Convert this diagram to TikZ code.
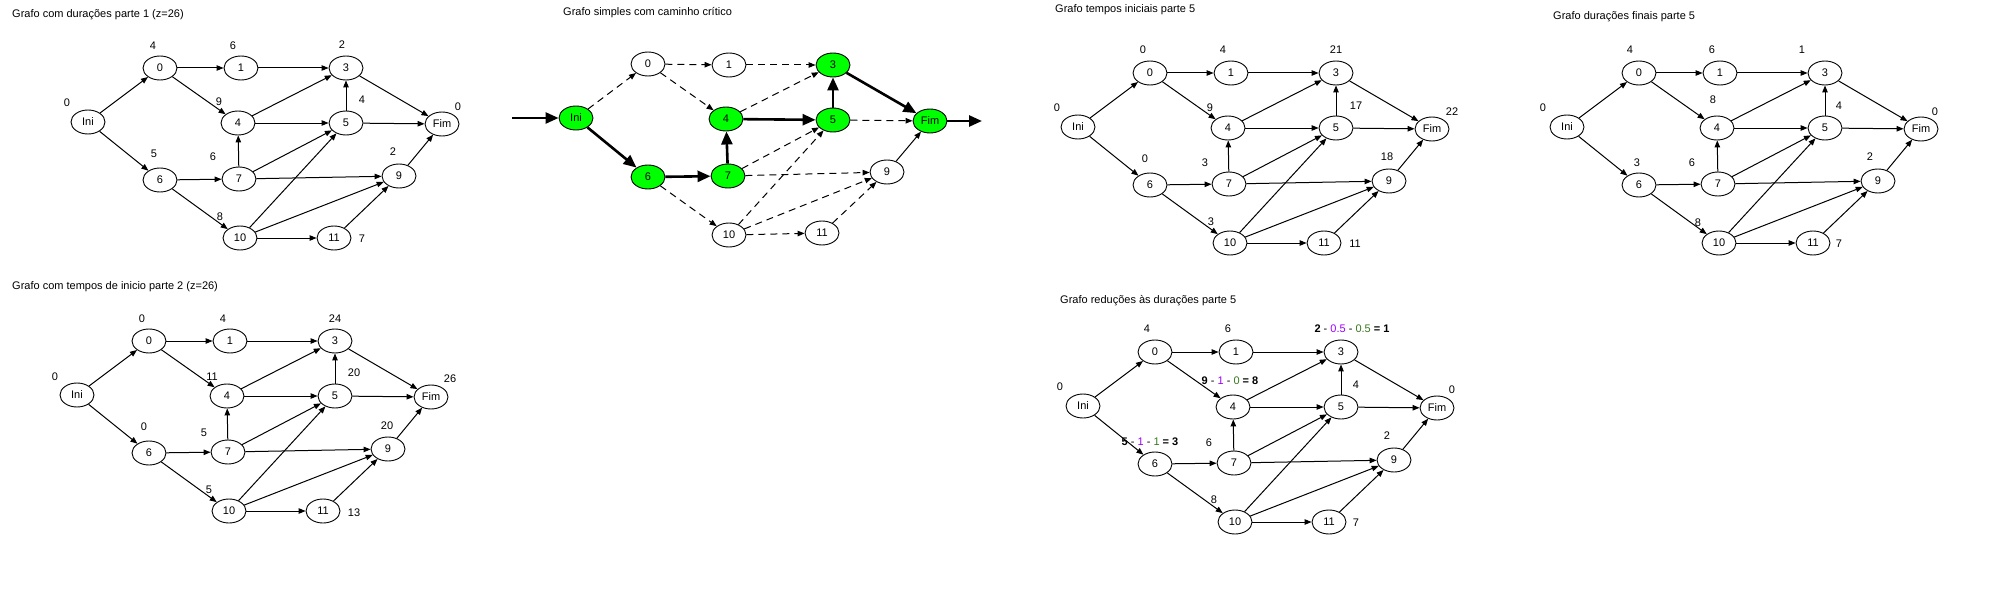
\documentclass[tikz,border=0pt]{standalone}
\usepackage{fontspec}
\setmainfont{Liberation Sans}
\usetikzlibrary{positioning, arrows.meta, shapes.geometric}

\definecolor{critverde}{HTML}{00FF00}
\definecolor{redroxo}{HTML}{9900FF}
\definecolor{redverde}{HTML}{38761D}

\begin{document}
\begin{tikzpicture}[
  x=1pt, y=-1pt,
  font=\fontsize{11}{13}\selectfont,
  vert/.style={
    draw, ellipse, line width=0.9pt, fill=white,
    minimum width=34pt, minimum height=24pt, inner sep=0pt
  },
  crit/.style={vert, fill=critverde},
  valor/.style={inner sep=0pt},
  titulo/.style={anchor=west, inner sep=0pt},
  seta/.style={-{Triangle[length=7pt,width=5.5pt]}, line width=1pt},
  tracejada/.style={seta, dash pattern=on 7pt off 5pt},
  grossa/.style={-{Triangle[length=13pt,width=11pt]}, line width=2.6pt},
]
\useasboundingbox (0,0) rectangle (2000,594);

% titles
\node[titulo] (ta) at (12,15)   {Grafo com durações parte 1 (z=26)};
\node[titulo] (tb) at (563,13)  {Grafo simples com caminho crítico};
\node[titulo] (tc) at (1055,10) {Grafo tempos iniciais parte 5};
\node[titulo] (td) at (1553,17) {Grafo durações finais parte 5};
\node[titulo] (te) at (12,287)  {Grafo com tempos de inicio parte 2 (z=26)};
\node[titulo] (tf) at (1060,301) {Grafo reduções às durações parte 5};

% five plain graphs, same layout, shifted to their Ini node
\foreach \g/\ox/\oy in {a/88/122, c/1078/127, d/1567/127, e/77/395, f/1083/406} {
  \begin{scope}[shift={(\ox,\oy)}]
    \foreach \v/\vx/\vy in {Ini/0/0, 0/72/-54, 1/153/-54, 3/258/-54, 4/150/1, 5/258/1,
        Fim/354/2, 6/72/58, 7/151/57, 9/311/54, 10/152/116, 11/246/116}
      \node[vert] (\g\v) at (\vx,\vy) {\v};
    \foreach \s/\t in {Ini/0, Ini/6, 0/1, 0/4, 1/3, 4/3, 4/5, 5/3, 3/Fim, 5/Fim,
        6/7, 6/10, 7/4, 7/5, 7/9, 9/Fim, 10/5, 10/9, 10/11, 11/9}
      \draw[seta] (\g\s) -- (\g\t);
  \end{scope}
}

% critical path graph
\begin{scope}[shift={(576,118)}]
  \foreach \v/\vx/\vy/\st in {Ini/0/0/crit, 0/72/-54/vert, 1/153/-53/vert, 3/257/-53/crit,
      4/150/1/crit, 5/257/2/crit, Fim/354/3/crit, 6/72/59/crit, 7/152/58/crit,
      9/311/54/vert, 10/153/117/vert, 11/246/115/vert}
    \node[\st] (b\v) at (\vx,\vy) {\v};
\end{scope}
\coordinate (bIn) at (512,118);
\coordinate (bOut) at (982,121);
\draw[grossa] (bIn) -- (bIni);
\draw[grossa] (bFim) -- (bOut);
\foreach \s/\t in {Ini/6, 6/7, 7/4, 4/5, 5/3, 3/Fim}
  \draw[grossa] (b\s) -- (b\t);
\foreach \s/\t in {Ini/0, 0/1, 0/4, 1/3, 4/3, 5/Fim, 6/10, 7/5, 7/9, 10/5, 10/9, 10/11, 11/9}
  \draw[tracejada] (b\s) -- (b\t);
\draw[seta] (b9) -- (bFim);

% values beside the nodes
\foreach \n/\lx/\ly/\txt in {Ini/67/103/0, 0/153/46/4, 1/233/46/6, 3/342/45/2, 4/219/102/9,
    5/362/100/4, Fim/458/107/0, 6/154/154/5, 7/213/157/6, 9/393/152/2, 10/220/217/8, 11/362/239/7}
  \node[valor] (a\n v) at (\lx,\ly) {\txt};
\foreach \n/\lx/\ly/\txt in {Ini/1057/108/0, 0/1143/50/0, 1/1223/50/4, 3/1336/50/21, 4/1210/108/9,
    5/1356/106/17, Fim/1452/112/22, 6/1145/159/0, 7/1205/163/3, 9/1387/157/18, 10/1211/222/3,
    11/1355/244/11}
  \node[valor] (c\n v) at (\lx,\ly) {\txt};
\foreach \n/\lx/\ly/\txt in {Ini/1543/108/0, 0/1630/50/4, 1/1712/50/6, 3/1802/50/1, 4/1713/100/8,
    5/1839/106/4, Fim/1935/112/0, 6/1637/163/3, 7/1692/163/6, 9/1870/157/2, 10/1698/223/8,
    11/1839/244/7}
  \node[valor] (d\n v) at (\lx,\ly) {\txt};
\foreach \n/\lx/\ly/\txt in {Ini/55/377/0, 0/142/319/0, 1/223/319/4, 3/335/319/24, 4/212/377/11,
    5/354/373/20, Fim/450/379/26, 6/144/427/0, 7/204/433/5, 9/387/426/20, 10/209/490/5,
    11/354/513/13}
  \node[valor] (e\n v) at (\lx,\ly) {\txt};
\foreach \n/\lx/\ly/\txt in {Ini/1060/387/0, 0/1147/329/4, 1/1228/329/6, 5/1356/385/4,
    Fim/1452/390/0, 7/1209/443/6, 9/1387/436/2, 10/1214/500/8, 11/1356/523/7}
  \node[valor] (f\n v) at (\lx,\ly) {\txt};

% reductions
\node[valor] (f3v) at (1352,329)
  {\textbf{2} - \textcolor{redroxo}{0.5} - \textcolor{redverde}{0.5} \textbf{= 1}};
\node[valor] (f4v) at (1230,381)
  {\textbf{9} - \textcolor{redroxo}{1} - \textcolor{redverde}{0} \textbf{= 8}};
\node[valor] (f6v) at (1150,442)
  {\textbf{5} - \textcolor{redroxo}{1} - \textcolor{redverde}{1} \textbf{= 3}};

\end{tikzpicture}
\end{document}
